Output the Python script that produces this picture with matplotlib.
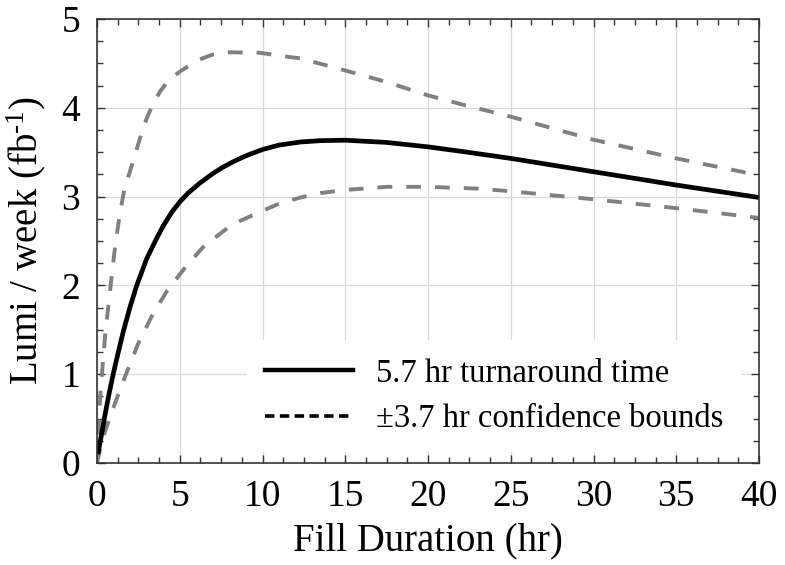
"""
Luminosity per week vs fill duration
"""
import matplotlib
matplotlib.use("Agg")
import matplotlib.pyplot as plt
from matplotlib.lines import Line2D
from matplotlib.ticker import MultipleLocator

plt.rcParams['font.family'] = ['Liberation Serif', 'DejaVu Serif']
plt.rcParams['mathtext.fontset'] = 'custom'
plt.rcParams['mathtext.rm'] = 'Liberation Serif'
plt.rcParams['mathtext.it'] = 'Liberation Serif:italic'

# values
fill_hr = [0.05, 0.25, 0.5, 0.75, 1.0, 1.25, 1.6, 2.0, 2.4, 3.0, 3.6, 4.0, 4.5, 5.0, 5.5,
           6.2, 7.0, 7.6, 8.2, 9.0, 10, 11, 12.3, 13.5, 15, 17.5, 20, 22, 25, 30, 35, 40]
lumi = [0.1, 0.3, 0.56, 0.8, 1.02, 1.22, 1.49, 1.76, 2.0, 2.3, 2.53, 2.67, 2.82, 2.94, 3.04,
        3.15, 3.26, 3.33, 3.39, 3.46, 3.53, 3.58, 3.615, 3.63, 3.635, 3.61, 3.56, 3.51, 3.43,
        3.28, 3.13, 2.99]

upper_hr = [0, 0.2, 0.35, 0.5, 0.7, 0.9, 1.1, 1.35, 1.65, 2.2, 2.7, 3.0, 3.4, 3.8, 4.2, 4.6, 5.1,
            6.2, 7.0, 8.0, 9.8, 11.5, 12.3, 15, 17.5, 20, 22, 25, 30, 35, 40]
upper = [0, 0.78, 1.12, 1.46, 1.79, 2.13, 2.45, 2.77, 3.08, 3.41, 3.72, 3.88, 4.05, 4.18, 4.28,
         4.35, 4.42, 4.545, 4.6, 4.625, 4.62, 4.575, 4.556, 4.42, 4.29, 4.14, 4.04, 3.90, 3.64,
         3.43, 3.24]

lower_hr = [0, 0.3, 0.6, 1.1, 1.75, 2.5, 3.3, 4.2, 5.4, 6.5, 8.2, 10, 11, 12.3, 13.5, 15, 17.5,
            20, 23, 25, 30, 35, 40]
lower = [0, 0.25, 0.42, 0.68, 1.0, 1.35, 1.65, 1.93, 2.22, 2.45, 2.69, 2.84, 2.92, 2.99, 3.04,
         3.075, 3.11, 3.11, 3.09, 3.06, 2.97, 2.87, 2.76]

fig = plt.figure(figsize=(7.85, 5.65), dpi=100)
ax = fig.add_axes([0.1236, 0.1805, 0.8433, 0.7859])

ax.plot(upper_hr, upper, color='#808080', lw=2.8, dashes=(3.8, 3.6))
ax.plot(lower_hr, lower, color='#808080', lw=2.8, dashes=(3.8, 3.6))
ax.plot(fill_hr, lumi, color='black', lw=3.4, solid_capstyle='butt')

ax.set_xlim(0, 40)
ax.set_ylim(0, 5)
ax.xaxis.set_major_locator(MultipleLocator(5))
ax.xaxis.set_minor_locator(MultipleLocator(1.25))
ax.yaxis.set_major_locator(MultipleLocator(1))
ax.yaxis.set_minor_locator(MultipleLocator(0.25))
ax.tick_params(which='both', direction='in', top=True, right=True, color='#333333', labelsize=27)
ax.tick_params(which='major', length=6, width=1)
ax.tick_params(which='minor', length=4, width=1)
ax.tick_params(axis='x', pad=12)
ax.tick_params(axis='y', pad=12)
for s in ax.spines.values():
    s.set_color('#333333')
    s.set_linewidth(1.2)
ax.grid(True, which='major', color='#d8d8d8', lw=0.9)
ax.set_axisbelow(True)

ax.set_xlabel('Fill Duration (hr)', fontsize=28, labelpad=6)
ax.set_ylabel('Lumi / week (fb$^{\\text{-1}}$)', fontsize=28, labelpad=10)

handles = [Line2D([], [], color='black', lw=3.2),
           Line2D([], [], color='black', lw=2.6, dashes=(2.6, 1.5))]
leg = ax.legend(handles, ['5.7 hr turnaround time', '\u00b13.7 hr confidence bounds'],
                loc='lower right', bbox_to_anchor=(0.973, 0.025), borderaxespad=0,
                fontsize=23.5, frameon=True, fancybox=False, framealpha=1,
                handlelength=2.7, handletextpad=0.7, labelspacing=0.45, borderpad=0.55)
leg.get_frame().set_edgecolor('none')
leg.get_frame().set_facecolor('white')

plt.savefig('out.png', dpi=100)
